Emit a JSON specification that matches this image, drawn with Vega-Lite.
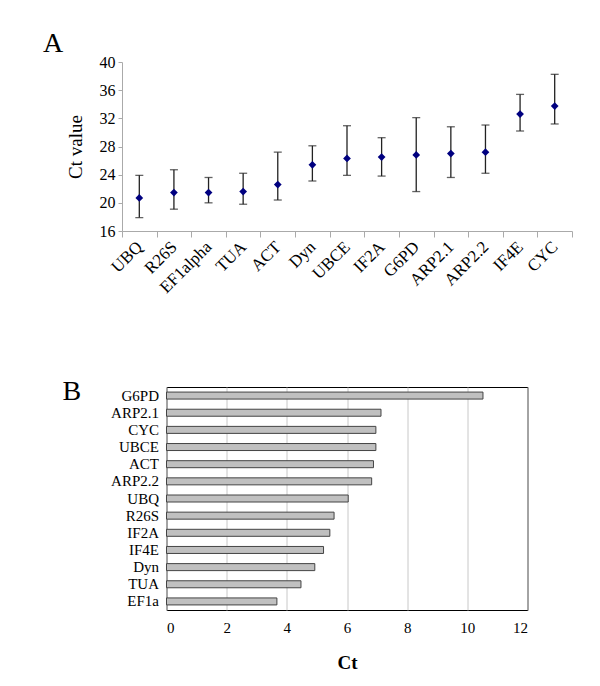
{
  "$schema": "https://vega.github.io/schema/vega-lite/v6.json",
  "background": "white",
  "padding": {"left": 43, "top": 30, "right": 5, "bottom": 5},
  "config": {"font": "Liberation Serif", "view": {"stroke": null}},
  "bounds": "flush",
  "center": true,
  "spacing": 156,
  "vconcat": [
    {
      "title": {"text": "A", "anchor": "start", "frame": "group", "fontSize": 28, "fontWeight": "normal", "font": "Liberation Serif", "dx": -79, "dy": 33, "baseline": "alphabetic", "offset": 7, "color": "black"},
      "width": 450,
      "height": 169,
      "data": {"values": [
        {"gene": "UBQ", "ct": 20.7, "low": 17.9, "high": 23.9},
        {"gene": "R26S", "ct": 21.45, "low": 19.1, "high": 24.7},
        {"gene": "EF1alpha", "ct": 21.45, "low": 20.0, "high": 23.6},
        {"gene": "TUA", "ct": 21.6, "low": 19.8, "high": 24.2},
        {"gene": "ACT", "ct": 22.6, "low": 20.4, "high": 27.2},
        {"gene": "Dyn", "ct": 25.4, "low": 23.1, "high": 28.1},
        {"gene": "UBCE", "ct": 26.3, "low": 23.9, "high": 30.95},
        {"gene": "IF2A", "ct": 26.5, "low": 23.8, "high": 29.25},
        {"gene": "G6PD", "ct": 26.8, "low": 21.6, "high": 32.1},
        {"gene": "ARP2.1", "ct": 27.0, "low": 23.6, "high": 30.8},
        {"gene": "ARP2.2", "ct": 27.2, "low": 24.2, "high": 31.05},
        {"gene": "IF4E", "ct": 32.6, "low": 30.2, "high": 35.4},
        {"gene": "CYC", "ct": 33.75, "low": 31.2, "high": 38.25}
      ]},
      "encoding": {
        "x": {"field": "gene", "type": "nominal", "sort": null,
          "scale": {"paddingInner": 0, "paddingOuter": 0},
          "axis": {"title": null, "labelAngle": -45, "labelAlign": "right", "labelBaseline": "middle", "labelFontSize": 17, "labelColor": "black", "labelPadding": 7,
            "tickBand": "extent", "tickColor": "#aaaaaa", "tickSize": 6, "domainColor": "#aaaaaa"}}
      },
      "layer": [
        {"mark": {"type": "rule", "color": "#222222", "strokeWidth": 1.3},
         "encoding": {
           "y": {"field": "low", "type": "quantitative", "scale": {"domain": [16, 40], "nice": false, "zero": false},
             "axis": {"title": "Ct value", "titleFontSize": 19, "titleFontWeight": "normal", "titleColor": "black", "titlePadding": 14,
               "values": [16, 20, 24, 28, 32, 36, 40], "labelOverlap": false, "labelFontSize": 16, "labelColor": "black", "grid": false,
               "tickColor": "#aaaaaa", "tickSize": 4, "domainColor": "#aaaaaa", "labelPadding": 3}},
           "y2": {"field": "high"}}},
        {"mark": {"type": "tick", "color": "#222222", "size": 8, "thickness": 1.3},
         "encoding": {"y": {"field": "low", "type": "quantitative",
             "axis": {"title": "Ct value", "titleFontSize": 19, "titleFontWeight": "normal", "titleColor": "black", "titlePadding": 14,
               "values": [16, 20, 24, 28, 32, 36, 40], "labelOverlap": false, "labelFontSize": 16, "labelColor": "black", "grid": false,
               "tickColor": "#aaaaaa", "tickSize": 4, "domainColor": "#aaaaaa", "labelPadding": 3}}}},
        {"mark": {"type": "tick", "color": "#222222", "size": 8, "thickness": 1.3},
         "encoding": {"y": {"field": "high", "type": "quantitative",
             "axis": {"title": "Ct value", "titleFontSize": 19, "titleFontWeight": "normal", "titleColor": "black", "titlePadding": 14,
               "values": [16, 20, 24, 28, 32, 36, 40], "labelOverlap": false, "labelFontSize": 16, "labelColor": "black", "grid": false,
               "tickColor": "#aaaaaa", "tickSize": 4, "domainColor": "#aaaaaa", "labelPadding": 3}}}},
        {"mark": {"type": "point", "shape": "diamond", "filled": true, "color": "#000080", "size": 60, "opacity": 1},
         "encoding": {"y": {"field": "ct", "type": "quantitative",
             "axis": {"title": "Ct value", "titleFontSize": 19, "titleFontWeight": "normal", "titleColor": "black", "titlePadding": 14,
               "values": [16, 20, 24, 28, 32, 36, 40], "labelOverlap": false, "labelFontSize": 16, "labelColor": "black", "grid": false,
               "tickColor": "#aaaaaa", "tickSize": 4, "domainColor": "#aaaaaa", "labelPadding": 3}}}}
      ]
    },
    {
      "title": {"text": "B", "anchor": "start", "frame": "group", "fontSize": 28, "fontWeight": "normal", "font": "Liberation Serif", "dx": -104, "dy": 47, "baseline": "alphabetic", "offset": 6, "color": "black"},
      "width": 361,
      "height": 223,
      "view": {"stroke": "black", "strokeWidth": 1},
      "data": {"values": [
        {"gene": "G6PD", "ct": 10.52},
        {"gene": "ARP2.1", "ct": 7.13},
        {"gene": "CYC", "ct": 6.96},
        {"gene": "UBCE", "ct": 6.96},
        {"gene": "ACT", "ct": 6.88},
        {"gene": "ARP2.2", "ct": 6.82},
        {"gene": "UBQ", "ct": 6.04},
        {"gene": "R26S", "ct": 5.57},
        {"gene": "IF2A", "ct": 5.43},
        {"gene": "IF4E", "ct": 5.22},
        {"gene": "Dyn", "ct": 4.93},
        {"gene": "TUA", "ct": 4.47},
        {"gene": "EF1a", "ct": 3.67}
      ]},
      "mark": {"type": "bar", "fill": "#c0c0c0", "stroke": "#444444", "strokeWidth": 1, "size": 7},
      "encoding": {
        "y": {"field": "gene", "type": "nominal", "sort": null,
          "scale": {"paddingInner": 0, "paddingOuter": 0},
          "axis": {"title": null, "ticks": false, "domain": false, "labelFontSize": 15, "labelColor": "black", "labelPadding": 8}},
        "x": {"field": "ct", "type": "quantitative", "scale": {"domain": [0, 12], "nice": false},
          "axis": {"title": "Ct", "titleFontSize": 19, "titleFontWeight": "bold", "titleColor": "black", "titlePadding": 18,
            "values": [0, 2, 4, 6, 8, 10, 12], "grid": true, "gridColor": "#c8c8c8", "ticks": false, "domain": false,
            "labelFontSize": 15, "labelColor": "black", "labelPadding": 10}}
      }
    }
  ]
}
